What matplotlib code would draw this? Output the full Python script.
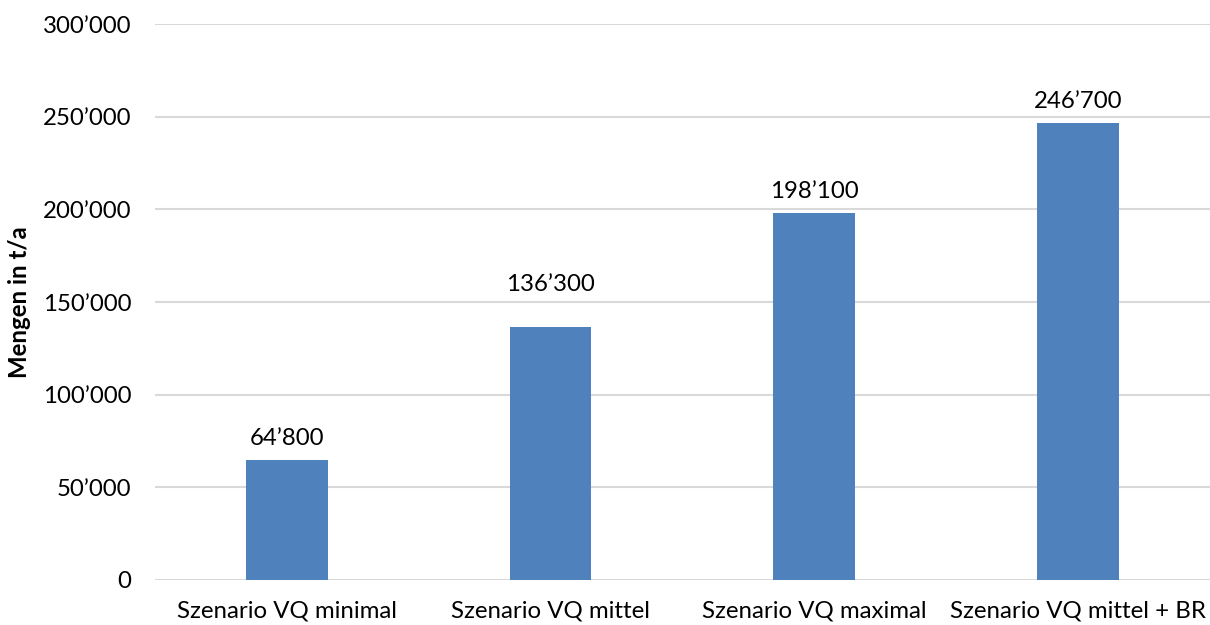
import matplotlib
matplotlib.use("Agg")
import matplotlib.pyplot as plt

categories = ["Szenario VQ minimal", "Szenario VQ mittel",
              "Szenario VQ maximal", "Szenario VQ mittel + BR"]
values = [64800, 136300, 198100, 246700]
yticks = [0, 50000, 100000, 150000, 200000, 250000, 300000]

plt.rcParams["font.family"] = ["Lato", "DejaVu Sans"]
FS = 17.3


def swiss(v):
    return f"{v:,}".replace(",", "\u2019")


fig = plt.figure(figsize=(12.10, 6.25), dpi=100)
ax = fig.add_axes([0.128, 0.072, 0.872, 0.8896])

x = range(len(categories))
bars = ax.bar(x, values, width=0.31, color="#4F81BD", zorder=3)

# label offsets in points above the bar top
offsets = [8, 23, 8, 8]
for rect, v, off in zip(bars, values, offsets):
    ax.annotate(swiss(v), (rect.get_x() + rect.get_width() / 2, v),
                xytext=(0, off), textcoords="offset points",
                ha="center", va="bottom", fontsize=FS, color="#000000")

ax.set_xlim(-0.5, len(categories) - 0.5)
ax.set_ylim(0, 300000)
ax.set_yticks(yticks)
ax.set_yticklabels([swiss(t) for t in yticks], fontsize=FS)
ax.set_xticks(list(x))
ax.set_xticklabels(categories, fontsize=FS)
ax.tick_params(axis="y", length=0, pad=17)
ax.tick_params(axis="x", length=0, pad=15)

ax.yaxis.grid(True, color="#D9D9D9", linewidth=1.5, zorder=0)
for s in ax.spines.values():
    s.set_visible(False)

ax.set_ylabel("Mengen in t/a", fontsize=FS, fontweight="bold")
ax.yaxis.set_label_coords(-0.117, 0.5)

fig.savefig("out.png", dpi=100)
